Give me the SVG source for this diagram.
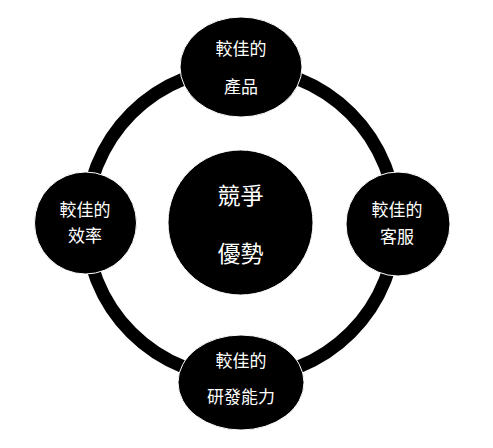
<svg xmlns="http://www.w3.org/2000/svg" width="493" height="448" viewBox="0 0 493 448">
<style>
.node{fill:#000;stroke:#fff;stroke-width:1}
.t{fill:#fff;font-family:"Noto Sans CJK TC","Noto Sans CJK SC",sans-serif;font-size:17px;text-anchor:middle;dominant-baseline:central}
.big{font-size:23px}
</style>
<rect width="493" height="448" fill="#fff"/>
<g id="connectors">
<circle cx="241" cy="223" r="155" fill="none" stroke="#000" stroke-width="13"/>
</g>
<g id="center">
<circle class="node" cx="240.5" cy="222.5" r="72.5"/>
<text class="t big" x="240.5" y="193.5">競爭</text>
<text class="t big" x="240.5" y="252">優勢</text>
</g>
<g id="top">
<ellipse class="node" cx="241" cy="67" rx="61" ry="50"/>
<text class="t" x="241" y="47.5">較佳的</text>
<text class="t" x="241" y="85">產品</text>
</g>
<g id="right">
<circle class="node" cx="398" cy="224" r="52"/>
<text class="t" x="397" y="208.5">較佳的</text>
<text class="t" x="397" y="235">客服</text>
</g>
<g id="left">
<circle class="node" cx="85.5" cy="223" r="51"/>
<text class="t" x="85" y="208.5">較佳的</text>
<text class="t" x="85" y="234.5">效率</text>
</g>
<g id="bottom">
<ellipse class="node" cx="241" cy="382.5" rx="63" ry="47.5"/>
<text class="t" x="241" y="359.5">較佳的</text>
<text class="t" x="241" y="395">研發能力</text>
</g>
</svg>
